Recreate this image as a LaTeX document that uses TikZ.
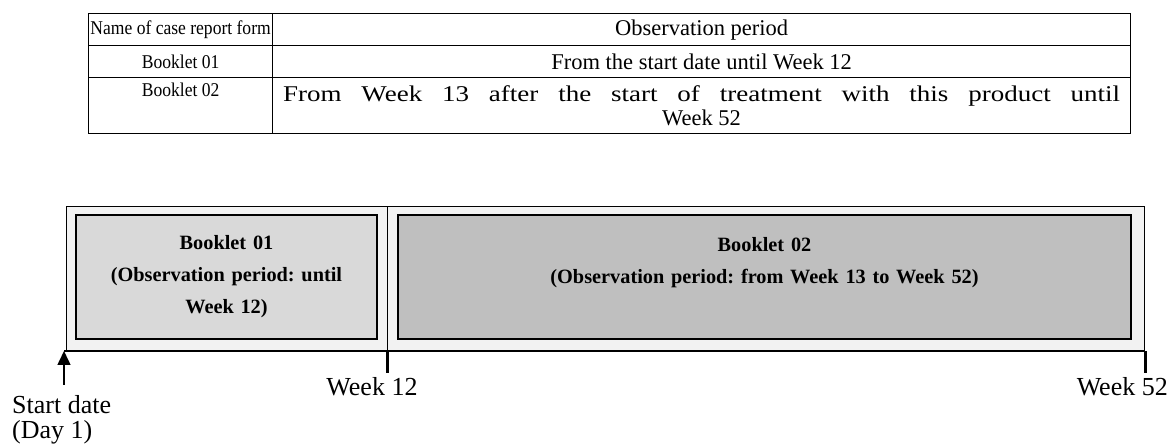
\documentclass[tikz,border=0pt]{standalone}
\usepackage{fontspec}
\setmainfont{Liberation Serif}
\newfontfamily\narrowfont[FakeStretch=0.9]{Liberation Serif}
\newfontfamily\spreadfont[FakeStretch=1.2]{Liberation Serif}
\usetikzlibrary{arrows.meta}
\definecolor{outerfill}{HTML}{F2F2F2}
\definecolor{firstfill}{HTML}{D9D9D9}
\definecolor{secondfill}{HTML}{BFBFBF}
\frenchspacing
\begin{document}
\begin{tikzpicture}[x=1pt, y=-1pt,
    cell/.style={draw, line width=1.2pt, rectangle, anchor=north west, inner sep=0pt, font=\fontsize{22.5}{24}\selectfont, align=center},
    namecell/.style={cell, font=\fontsize{19.5}{24}\selectfont\narrowfont},
    outerbox/.style={draw, line width=1pt, fill=outerfill},
    innerbox/.style={draw, line width=1.6pt, align=center, font=\fontsize{20.3}{32}\selectfont\bfseries},
    label/.style={font=\fontsize{26}{25}\selectfont, inner sep=0pt}]
    \useasboundingbox (0,0) rectangle (1171,446);
    \node[namecell, minimum width=184pt, minimum height=32pt] (hname) at (88,13) {Name of case report form};
    \node[cell, minimum width=858pt, minimum height=32pt] (hperiod) at (272,13) {Observation period};
    \node[namecell, minimum width=184pt, minimum height=32pt] (bookone) at (88,45) {Booklet 01};
    \node[cell, minimum width=858pt, minimum height=32pt] (periodone) at (272,45) {From the start date until Week 12};
    \node[namecell, minimum width=184pt, minimum height=56pt] (booktwo) at (88,77) {};
    \node[anchor=north, inner sep=0pt, font=\fontsize{19.5}{24}\selectfont\narrowfont] (booktwotext) at ([yshift=-6pt]booktwo.north) {Booklet 02};
    \node[cell, minimum width=858pt, minimum height=56pt] (periodtwo) at (272,77) {\makebox[837pt][s]{\spreadfont From Week 13 after the start of treatment with this product until}\\Week 52};
    \draw[outerbox] (66,207) rectangle (387,351);
    \draw[outerbox] (387,207) rectangle (1144,351);
    \node[innerbox, fill=firstfill, minimum width=301pt, minimum height=124pt, text width=290pt] (first) at (226.5,277) {Booklet 01\\(Observation period: until\\Week 12)};
    \node[innerbox, fill=secondfill, minimum width=733pt, minimum height=124pt, text width=700pt] (second) at (764.5,277) {Booklet 02\\(Observation period: from Week 13 to Week 52)\\\phantom{W}};
    \coordinate (start) at (64,351);
    \coordinate (startfoot) at (64,385);
    \coordinate (wtwelve) at (387,351);
    \coordinate (wtwelvefoot) at (387,373);
    \coordinate (wfiftytwo) at (1145,351);
    \coordinate (wfiftytwofoot) at (1145,373);
    \draw[line width=2pt] (start) -- (wfiftytwo);
    \draw[line width=3pt] (wtwelve) -- (wtwelvefoot);
    \draw[line width=3pt] (wfiftytwo) -- (wfiftytwofoot);
    \draw[line width=1.5pt, -{Triangle[length=14pt, width=13pt]}] (startfoot) -- (start);
    \node[label, anchor=north west, align=left] (startlbl) at (12,395) {Start date\\(Day 1)};
    \node[label, anchor=north] (wtwelvelbl) at (372,377) {Week 12};
    \node[label, anchor=north east] (wfiftytwolbl) at (1168,377) {Week 52};
\end{tikzpicture}
\end{document}
